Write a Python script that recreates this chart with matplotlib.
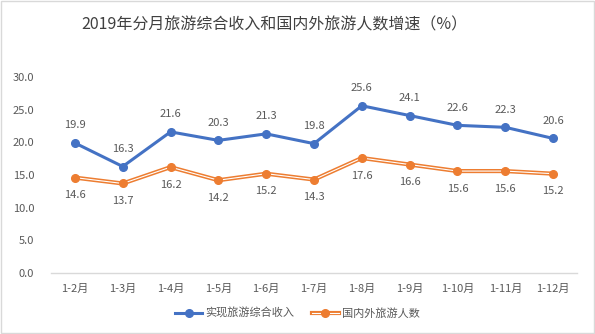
import matplotlib
matplotlib.use("Agg")
import matplotlib.pyplot as plt
from matplotlib.lines import Line2D
import numpy as np

plt.rcParams['font.family'] = ['Noto Sans CJK SC', 'DejaVu Sans']

months = ["1-2月", "1-3月", "1-4月", "1-5月", "1-6月", "1-7月",
          "1-8月", "1-9月", "1-10月", "1-11月", "1-12月"]
income = [19.9, 16.3, 21.6, 20.3, 21.3, 19.8, 25.6, 24.1, 22.6, 22.3, 20.6]
tourists = [14.6, 13.7, 16.2, 14.2, 15.2, 14.3, 17.6, 16.6, 15.6, 15.6, 15.2]

blue = "#4472C4"
orange = "#ED7D31"
gray = "#595959"

fig = plt.figure(figsize=(5.95, 3.34), dpi=100)
ax = fig.add_axes([51 / 595, 1 - 273 / 334, 526 / 595, 196 / 334])

x = np.arange(len(months))

ax.plot(x, income, color=blue, lw=2.2, marker="o", ms=5.5, zorder=4)
ax.plot(x, tourists, color=orange, lw=3.0, zorder=3)
ax.plot(x, tourists, color="white", lw=0.8, zorder=3)
ax.plot(x, tourists, ls="none", color=orange, marker="o", ms=5.5, zorder=4)

for xi, v in zip(x, income):
    ax.annotate(f"{v:.1f}", (xi, v), xytext=(0, 9), textcoords="offset points",
                ha="center", va="bottom", fontsize=8, color=gray)
for xi, v in zip(x, tourists):
    ax.annotate(f"{v:.1f}", (xi, v), xytext=(0, -9), textcoords="offset points",
                ha="center", va="top", fontsize=8, color=gray)

ax.set_xlim(-0.5, len(months) - 0.5)
ax.set_ylim(0, 30)
ax.set_yticks(np.arange(0, 31, 5))
ax.set_yticklabels([f"{t:.1f}" for t in np.arange(0, 31, 5)])
ax.set_xticks(x)
ax.set_xticklabels(months)
ax.tick_params(axis="both", length=0, labelsize=8, labelcolor=gray)
ax.tick_params(axis="y", pad=12)
ax.tick_params(axis="x", pad=8)
for side in ["top", "right", "left"]:
    ax.spines[side].set_visible(False)
ax.spines["bottom"].set_color("#D9D9D9")
ax.spines["bottom"].set_linewidth(1.0)

fig.text(274 / 595, 1 - 25 / 334, "2019年分月旅游综合收入和国内外旅游人数增速（%）",
         ha="center", va="center", fontsize=11.5, color="#404040")

# legend: orange handle drawn as double line (orange with white core)
h1 = Line2D([], [], color=blue, lw=2.2, marker="o", ms=5.5)
h2 = Line2D([], [], color=orange, lw=3.0)
h2w = Line2D([], [], color="white", lw=0.8)
h2m = Line2D([], [], ls="none", color=orange, marker="o", ms=5.5)
fig.legend([h1, (h2, h2w, h2m)], ["实现旅游综合收入", "国内外旅游人数"],
           loc="center", bbox_to_anchor=(0.5, 1 - 313 / 334), ncol=2,
           frameon=False, fontsize=8, handlelength=2.4, columnspacing=1.6,
           handletextpad=0.3, labelcolor=gray)

fig.patches.append(plt.Rectangle((0.002, 0.003), 0.996, 0.994, transform=fig.transFigure,
                                 fill=False, edgecolor="#D9D9D9", lw=1.0))

fig.savefig("out.png", dpi=100)
